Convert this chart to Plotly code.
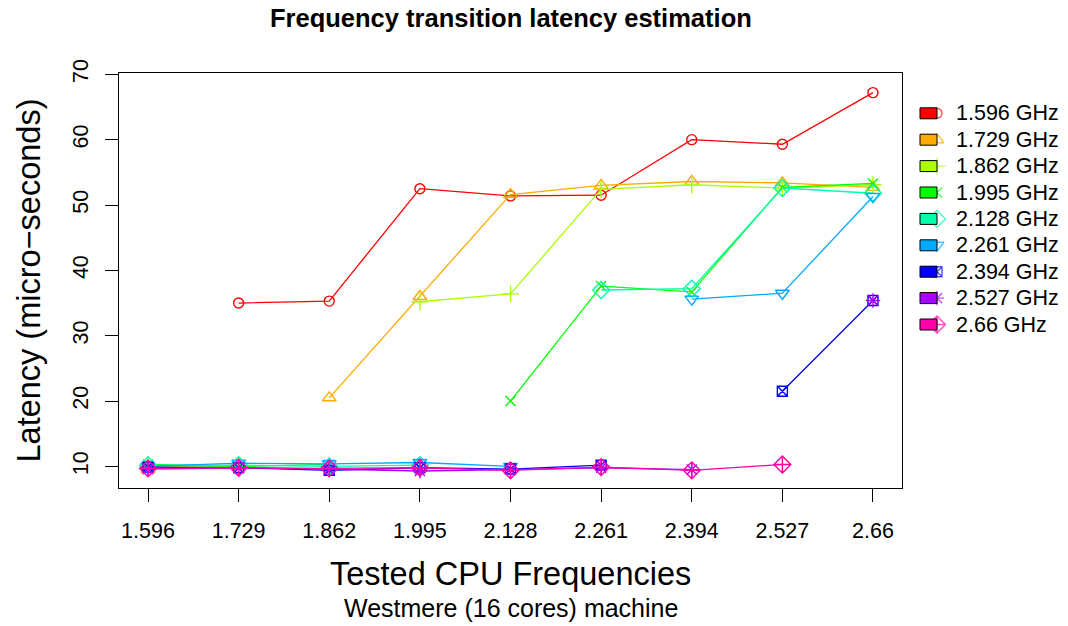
import plotly.graph_objects as go

# Tested target frequencies (x axis)
freqs = [1.596, 1.729, 1.862, 1.995, 2.128, 2.261, 2.394, 2.527, 2.66]
tick_labels = ["1.596", "1.729", "1.862", "1.995", "2.128", "2.261", "2.394", "2.527", "2.66"]

# Source frequencies (one series each)
series_names = ["1.596 GHz", "1.729 GHz", "1.862 GHz", "1.995 GHz", "2.128 GHz",
                "2.261 GHz", "2.394 GHz", "2.527 GHz", "2.66 GHz"]

# Measured transition latency in micro-seconds (None = same frequency, not measured)
lat_1596 = [None, 35.0, 35.3, 52.5, 51.4, 51.5, 60.0, 59.3, 67.2]
lat_1729 = [9.5, None, 20.5, 36.0, 51.6, 53.0, 53.6, 53.4, 52.7]
lat_1862 = [10.0, 10.0, None, 35.2, 36.4, 52.4, 53.1, 52.6, 53.1]
lat_1995 = [10.3, 10.0, 10.3, None, 20.0, 37.6, 36.7, 52.7, 53.3]
lat_2128 = [10.2, 10.2, 10.0, 10.2, None, 37.0, 37.2, 52.6, 51.8]
lat_2261 = [10.0, 10.5, 10.4, 10.6, 10.0, None, 35.6, 36.5, 51.3]
lat_2394 = [9.9, 9.8, 9.4, 9.8, 9.6, 10.2, None, 21.5, 35.4]
lat_2527 = [9.6, 9.8, 9.6, 9.3, 9.5, 9.8, 9.5, None, 35.4]
lat_2660 = [9.7, 9.8, 9.7, 9.8, 9.4, 9.9, 9.4, 10.3, None]

latencies = [lat_1596, lat_1729, lat_1862, lat_1995, lat_2128,
             lat_2261, lat_2394, lat_2527, lat_2660]

# rainbow(9) palette and plotting symbols
colors = ["#FF0000", "#FFAA00", "#AAFF00", "#00FF00", "#00FFAA",
          "#00AAFF", "#0000FF", "#AA00FF", "#FF00AA"]
symbols = ["circle-open", "triangle-up-open", "cross-thin-open", "x-thin-open",
           "diamond-open", "triangle-down-open", "square-x-open",
           "asterisk-open", "diamond-cross-open"]
sizes = [10, 12, 12, 10, 13, 12, 10, 12, 13]

FONT = "Liberation Sans, Arial, Helvetica, sans-serif"
W, H = 1068, 626
ML, MR, MT, MB = 119, 0, 73, 138
PLOT_RIGHT = 902  # right edge of the framed plotting region (px)
plot_w = W - ML - MR
x_dom_end = (PLOT_RIGHT - ML) / plot_w

fig = go.Figure()

for name, y, c, s, sz in zip(series_names, latencies, colors, symbols, sizes):
    fig.add_trace(go.Scatter(
        x=freqs, y=y, name=name, mode="lines+markers",
        line=dict(color=c, width=1.3),
        marker=dict(symbol=s, size=sz, color=c, line=dict(color=c, width=1.4)),
        connectgaps=False, showlegend=False,
        xaxis="x", yaxis="y",
    ))

# Legend keys: filled box with the series symbol on its right edge
LEG_BOX_X0, LEG_BOX_X1 = 920, 937
LEG_TEXT_X = 954
LEG_Y0, LEG_DY = 113.3, 26.4
leg_y = [LEG_Y0 + i * LEG_DY for i in range(len(series_names))]

for yy, c in zip(leg_y, colors):
    fig.add_shape(type="rect", xref="x2", yref="y2",
                  x0=LEG_BOX_X0, x1=LEG_BOX_X1, y0=yy - 5.5, y1=yy + 5.5,
                  fillcolor=c, line=dict(color="black", width=1))

fig.add_trace(go.Scatter(
    x=[LEG_BOX_X1] * len(series_names), y=leg_y, mode="markers",
    marker=dict(symbol=symbols, size=sizes, color=colors,
                line=dict(color=colors, width=1.4)),
    xaxis="x2", yaxis="y2", showlegend=False, hoverinfo="skip",
))

annotations = []
for yy, name in zip(leg_y, series_names):
    annotations.append(dict(x=LEG_TEXT_X, y=yy, xref="x2", yref="y2", text=name,
                            showarrow=False, xanchor="left", yanchor="middle",
                            font=dict(family=FONT, size=21.5, color="black")))

def py(pix):
    # pixel row -> paper y (paper 0..1 spans the plotting region)
    return (H - MB - pix) / (H - MB - MT)

def px(pix):
    return (pix - ML) / plot_w

annotations += [
    dict(x=x_dom_end / 2, y=py(18), xref="paper", yref="paper",
         text="<b>Frequency transition latency estimation</b>", showarrow=False,
         xanchor="center", yanchor="middle",
         font=dict(family=FONT, size=25.5, color="black")),
    dict(x=x_dom_end / 2, y=py(574), xref="paper", yref="paper",
         text="Tested CPU Frequencies", showarrow=False,
         xanchor="center", yanchor="middle",
         font=dict(family=FONT, size=32.5, color="black")),
    dict(x=x_dom_end / 2, y=py(608), xref="paper", yref="paper",
         text="Westmere (16 cores) machine", showarrow=False,
         xanchor="center", yanchor="middle",
         font=dict(family=FONT, size=25, color="black")),
    dict(x=px(28), y=0.5, xref="paper", yref="paper",
         text="Latency (micro\u2212seconds)", showarrow=False, textangle=-90,
         xanchor="center", yanchor="middle",
         font=dict(family=FONT, size=32.5, color="black")),
]

fig.update_layout(
    width=W, height=H,
    margin=dict(l=ML, r=MR, t=MT, b=MB, pad=0),
    paper_bgcolor="white", plot_bgcolor="white",
    font=dict(family=FONT, size=21, color="black"),
    showlegend=False,
    annotations=annotations,
    xaxis=dict(
        domain=[0, x_dom_end], range=[1.5534, 2.7026],
        tickmode="array", tickvals=freqs, ticktext=tick_labels,
        ticks="outside", ticklen=13, tickwidth=1, tickcolor="black",
        ticklabelstandoff=10,
        showline=True, linecolor="black", linewidth=1, mirror=True,
        showgrid=False, zeroline=False,
        tickfont=dict(family=FONT, size=21.5, color="black"),
    ),
    yaxis=dict(
        domain=[0, 1], range=[6.70, 70.2],
        tickmode="array", tickvals=[10, 20, 30, 40, 50, 60, 70],
        ticks="outside", ticklen=13, tickwidth=1, tickcolor="black",
        tickangle=-90, ticklabelstandoff=8,
        showline=True, linecolor="black", linewidth=1, mirror=True,
        showgrid=False, zeroline=False,
        tickfont=dict(family=FONT, size=21.5, color="black"),
    ),
    xaxis2=dict(domain=[px(905), 1], range=[905, W], visible=False,
                anchor="y2", fixedrange=True),
    yaxis2=dict(domain=[0, 1], range=[H - MB, MT], visible=False,
                anchor="x2", fixedrange=True),
)

fig.write_html("out.html")
